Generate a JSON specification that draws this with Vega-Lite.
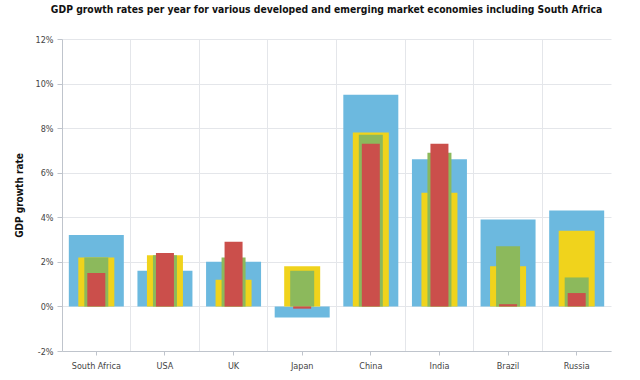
{
  "$schema": "https://vega.github.io/schema/vega-lite/v6.json",
  "width": 549,
  "height": 312,
  "autosize": "none",
  "padding": {"left": 62, "top": 39, "right": 29, "bottom": 29},
  "title": {
    "text": "GDP growth rates per year for various developed and emerging market economies including South Africa",
    "font": "DejaVu Sans Condensed, Liberation Sans, sans-serif",
    "fontSize": 10.3,
    "fontWeight": "bold",
    "color": "#111111",
    "offset": 20,
    "dx": -10
  },
  "config": {
    "view": {"stroke": null},
    "font": "DejaVu Sans Condensed, Liberation Sans, sans-serif",
    "axis": {"labelColor": "#444444", "labelFontSize": 9, "domainColor": "#bfc4cc", "tickColor": "#bfc4cc", "gridColor": "#e4e6ea"}
  },
  "data": {
    "values": [
      {"country": "South Africa", "series": "A", "value": 3.2},
      {"country": "USA", "series": "A", "value": 1.6},
      {"country": "UK", "series": "A", "value": 2.0},
      {"country": "Japan", "series": "A", "value": -0.5},
      {"country": "China", "series": "A", "value": 9.5},
      {"country": "India", "series": "A", "value": 6.6},
      {"country": "Brazil", "series": "A", "value": 3.9},
      {"country": "Russia", "series": "A", "value": 4.3},
      {"country": "South Africa", "series": "B", "value": 2.2},
      {"country": "USA", "series": "B", "value": 2.3},
      {"country": "UK", "series": "B", "value": 1.2},
      {"country": "Japan", "series": "B", "value": 1.8},
      {"country": "China", "series": "B", "value": 7.8},
      {"country": "India", "series": "B", "value": 5.1},
      {"country": "Brazil", "series": "B", "value": 1.8},
      {"country": "Russia", "series": "B", "value": 3.4},
      {"country": "South Africa", "series": "C", "value": 2.2},
      {"country": "USA", "series": "C", "value": 2.3},
      {"country": "UK", "series": "C", "value": 2.2},
      {"country": "Japan", "series": "C", "value": 1.6},
      {"country": "China", "series": "C", "value": 7.7},
      {"country": "India", "series": "C", "value": 6.9},
      {"country": "Brazil", "series": "C", "value": 2.7},
      {"country": "Russia", "series": "C", "value": 1.3},
      {"country": "South Africa", "series": "D", "value": 1.5},
      {"country": "USA", "series": "D", "value": 2.4},
      {"country": "UK", "series": "D", "value": 2.9},
      {"country": "Japan", "series": "D", "value": -0.1},
      {"country": "China", "series": "D", "value": 7.3},
      {"country": "India", "series": "D", "value": 7.3},
      {"country": "Brazil", "series": "D", "value": 0.1},
      {"country": "Russia", "series": "D", "value": 0.6}
    ]
  },
  "encoding": {
    "x": {
      "field": "country",
      "type": "nominal",
      "sort": null,
      "scale": {"paddingInner": 0, "paddingOuter": 0},
      "title": null,
      "axis": null
    },
    "y": {
      "field": "value",
      "type": "quantitative",
      "scale": {"domain": [-2, 12], "nice": false},
      "title": "GDP growth rate"
    }
  },
  "layer": [
    {
      "transform": [{"filter": "datum.series === 'A'"}],
      "mark": {"type": "bar", "size": 55, "color": "#6cb9df"},
      "encoding": {
        "x": {
          "field": "country", "type": "nominal", "sort": null, "title": null,
          "axis": {"orient": "bottom", "grid": true, "bandPosition": 0, "ticks": false, "labels": false, "domain": true}
        },
        "y": {
          "field": "value", "type": "quantitative", "title": "GDP growth rate",
          "axis": {
            "values": [-2, 0, 2, 4, 6, 8, 10, 12],
            "labelExpr": "datum.value + '%'",
            "tickSize": 5,
            "labelPadding": 4,
            "titleFontSize": 10,
            "titleFontWeight": "bold",
            "titleColor": "#111111",
            "titlePadding": 11
          }
        }
      }
    },
    {
      "transform": [{"filter": "datum.series === 'B'"}],
      "mark": {"type": "bar", "size": 36, "color": "#f0d31c"},
      "encoding": {
        "x": {
          "field": "country", "type": "nominal", "sort": null, "title": null,
          "axis": {"orient": "bottom", "grid": false, "ticks": true, "tickSize": 4, "labels": true, "labelAngle": 0, "labelPadding": 6, "domain": false}
        }
      }
    },
    {
      "transform": [{"filter": "datum.series === 'C'"}],
      "mark": {"type": "bar", "size": 24, "color": "#8cb95c"}
    },
    {
      "transform": [{"filter": "datum.series === 'D'"}],
      "mark": {"type": "bar", "size": 18, "color": "#cb4f4b"}
    }
  ],
  "resolve": {"axis": {"x": "independent"}}
}
